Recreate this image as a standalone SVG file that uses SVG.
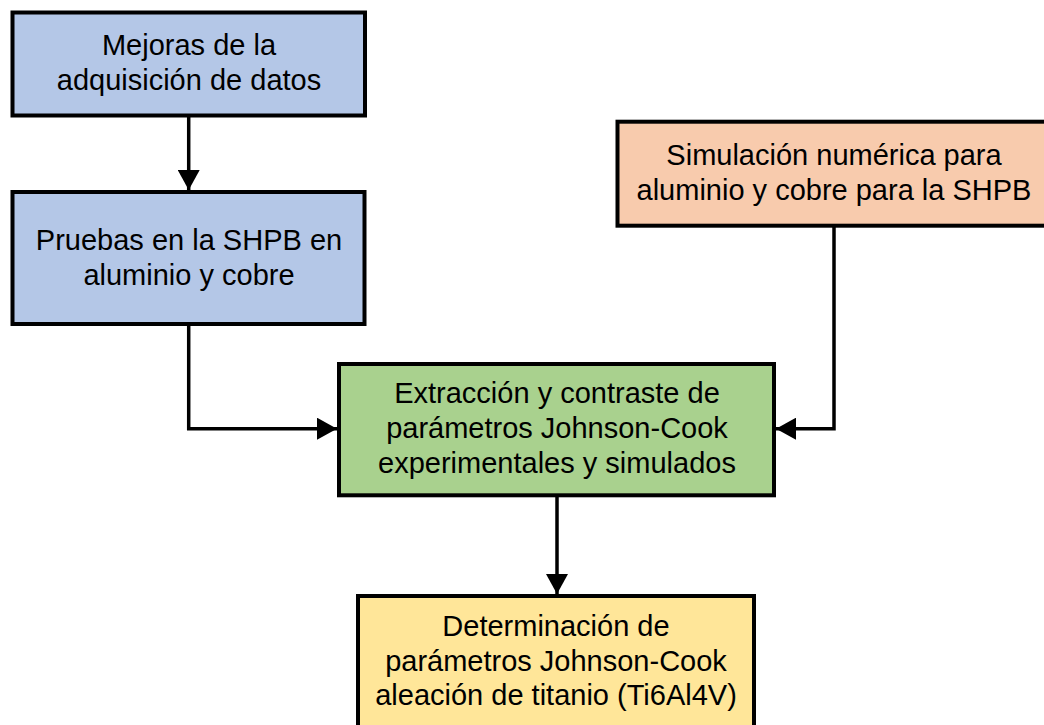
<svg xmlns="http://www.w3.org/2000/svg" width="1044" height="725" viewBox="0 0 1044 725">
<defs>
<style>
.box{stroke:#000;stroke-width:4}
.blue{fill:#b4c7e7}
.orange{fill:#f8cbad}
.green{fill:#a9d18e}
.yellow{fill:#ffe699}
text{font-family:"Liberation Sans",Arial,sans-serif;font-size:29px;fill:#000;text-anchor:middle}
.conn{fill:none;stroke:#000;stroke-width:3.5}
</style>
<marker id="arr" markerUnits="userSpaceOnUse" markerWidth="22" markerHeight="22" viewBox="0 0 20 22" refX="20" refY="11" orient="auto">
<path d="M0,0 L20,11 L0,22 Z" fill="#000"/>
</marker>
</defs>
<rect width="1044" height="725" fill="#fff"/>
<g id="connectors">
<path class="conn" d="M188.7,115.5 V190" marker-end="url(#arr)"/>
<path class="conn" d="M188.7,324 V428.7 H337" marker-end="url(#arr)"/>
<path class="conn" d="M834,226 V428.7 H776" marker-end="url(#arr)"/>
<path class="conn" d="M557,495.3 V594" marker-end="url(#arr)"/>
</g>
<g id="node-mejoras">
<rect class="box blue" x="12.5" y="12.5" width="352.5" height="103"/>
<text x="189" y="55">Mejoras de la</text>
<text x="189" y="90">adquisición de datos</text>
</g>
<g id="node-pruebas">
<rect class="box blue" x="12.5" y="192" width="352" height="132"/>
<text x="189" y="250">Pruebas en la SHPB en</text>
<text x="189" y="285">aluminio y cobre</text>
</g>
<g id="node-simulacion">
<rect class="box orange" x="617.5" y="121.7" width="440" height="104"/>
<text x="834" y="164.5">Simulación numérica para</text>
<text x="834" y="200">aluminio y cobre para la SHPB</text>
</g>
<g id="node-extraccion">
<rect class="box green" x="339" y="364" width="435" height="131.3"/>
<text x="557" y="402.5">Extracción y contraste de</text>
<text x="557" y="437.5">parámetros Johnson-Cook</text>
<text x="557" y="472.5">experimentales y simulados</text>
</g>
<g id="node-determinacion">
<rect class="box yellow" x="358" y="596" width="396" height="140"/>
<text x="556" y="636">Determinación de</text>
<text x="556" y="670.5">parámetros Johnson-Cook</text>
<text x="556" y="705">aleación de titanio (Ti6Al4V)</text>
</g>
</svg>
